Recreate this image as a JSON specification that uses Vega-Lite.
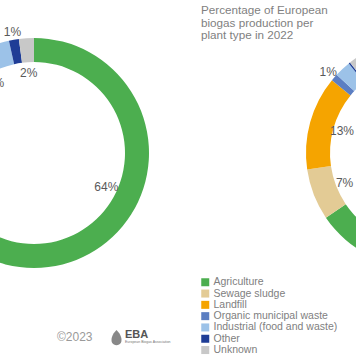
{
  "$schema": "https://vega.github.io/schema/vega-lite/v6.json",
  "width": 356,
  "height": 306,
  "autosize": {"type": "none"},
  "padding": {"left": 0, "top": 0, "right": 0, "bottom": 58},
  "background": "white",
  "config": {"view": {"stroke": null}, "font": "Liberation Sans"},
  "title": {
    "text": ["Percentage of European", "biogas production per", "plant type in 2022"],
    "anchor": "start",
    "frame": "group",
    "orient": "top",
    "dx": 201,
    "offset": -42,
    "font": "Liberation Sans",
    "fontSize": 11.7,
    "fontWeight": "normal",
    "lineHeight": 12.5,
    "color": "#7f7f7f"
  },
  "datasets": {
    "shares": [
      {"chart": "plants", "type": "Agriculture", "ord": 1, "share": 0.64},
      {"chart": "plants", "type": "Sewage sludge", "ord": 2, "share": 0.11},
      {"chart": "plants", "type": "Landfill", "ord": 3, "share": 0.07},
      {"chart": "plants", "type": "Organic municipal waste", "ord": 4, "share": 0.055},
      {"chart": "plants", "type": "Industrial (food and waste)", "ord": 5, "share": 0.09},
      {"chart": "plants", "type": "Other", "ord": 6, "share": 0.014},
      {"chart": "plants", "type": "Unknown", "ord": 7, "share": 0.021},
      {"chart": "production", "type": "Agriculture", "ord": 1, "share": 0.655},
      {"chart": "production", "type": "Sewage sludge", "ord": 2, "share": 0.072},
      {"chart": "production", "type": "Landfill", "ord": 3, "share": 0.132},
      {"chart": "production", "type": "Organic municipal waste", "ord": 4, "share": 0.010},
      {"chart": "production", "type": "Industrial (food and waste)", "ord": 5, "share": 0.023},
      {"chart": "production", "type": "Other", "ord": 6, "share": 0.002},
      {"chart": "production", "type": "Unknown", "ord": 7, "share": 0.106}
    ]
  },
  "data": {"name": "shares"},
  "layer": [
    {
      "transform": [{"filter": "datum.chart === 'plants'"}],
      "encoding": {
        "theta": {"field": "share", "type": "quantitative", "stack": true},
        "order": {"field": "ord", "type": "quantitative"},
        "x": {"field": "chart", "type": "nominal", "axis": null,
              "scale": {"type": "point", "domain": ["plants", "production"], "range": [34, 421], "padding": 0}}
      },
      "layer": [
        {
          "mark": {"type": "arc", "outerRadius": 115, "innerRadius": 91},
          "encoding": {
            "color": {
              "field": "type", "type": "nominal",
              "scale": {
                "domain": ["Agriculture", "Sewage sludge", "Landfill", "Organic municipal waste", "Industrial (food and waste)", "Other", "Unknown"],
                "range": ["#4cae4f", "#e3cb95", "#f5a400", "#5b7ec2", "#9cc2e8", "#1f3d96", "#c8c8c8"]
              },
              "legend": {
                "orient": "none", "legendX": 200, "legendY": 277, "title": null,
                "symbolType": "square", "symbolSize": 64, "symbolStrokeWidth": 0,
                "labelFont": "Liberation Sans", "labelFontSize": 10.5, "labelColor": "#808080",
                "labelOffset": 3, "rowPadding": 0.3, "padding": 0, "offset": 0
              }
            }
          }
        },
        {
          "mark": {"type": "text", "radius": 80, "fontSize": 12, "fill": "#595959", "font": "Liberation Sans"},
          "encoding": {
            "text": {"field": "share", "type": "quantitative", "format": ".0%"},
            "opacity": {"condition": {"test": "datum.share >= 0.018", "value": 1}, "value": 0}
          }
        },
        {
          "mark": {"type": "text", "radius": 123, "fontSize": 12, "fill": "#595959", "font": "Liberation Sans"},
          "encoding": {
            "text": {"field": "share", "type": "quantitative", "format": ".0%"},
            "opacity": {"condition": {"test": "datum.share >= 0.005 && datum.share < 0.018", "value": 1}, "value": 0}
          }
        }
      ]
    },
    {
      "transform": [{"filter": "datum.chart === 'production'"}],
      "encoding": {
        "theta": {"field": "share", "type": "quantitative", "stack": true},
        "order": {"field": "ord", "type": "quantitative"},
        "x": {"field": "chart", "type": "nominal", "axis": null,
              "scale": {"type": "point", "domain": ["plants", "production"], "range": [34, 421], "padding": 0}}
      },
      "layer": [
        {
          "mark": {"type": "arc", "outerRadius": 115, "innerRadius": 91},
          "encoding": {"color": {"field": "type", "type": "nominal"}}
        },
        {
          "mark": {"type": "text", "radius": 82, "fontSize": 12, "fill": "#595959", "font": "Liberation Sans"},
          "encoding": {
            "text": {"field": "share", "type": "quantitative", "format": ".0%"},
            "opacity": {"condition": {"test": "datum.share >= 0.018", "value": 1}, "value": 0}
          }
        },
        {
          "mark": {"type": "text", "radius": 123, "fontSize": 12, "fill": "#595959", "font": "Liberation Sans"},
          "encoding": {
            "text": {"field": "share", "type": "quantitative", "format": ".0%"},
            "opacity": {"condition": {"test": "datum.share >= 0.005 && datum.share < 0.018", "value": 1}, "value": 0}
          }
        }
      ]
    },
    {
      "data": {"values": [{"text": "©2023"}]},
      "mark": {"type": "text", "align": "left", "baseline": "middle", "fontSize": 12, "fill": "#9a9a9a", "font": "Liberation Sans"},
      "encoding": {"x": {"value": 57}, "y": {"value": 337}, "text": {"field": "text"}}
    },
    {
      "data": {"values": [{"text": "EBA"}]},
      "mark": {"type": "text", "align": "left", "baseline": "alphabetic", "fontSize": 11, "fontWeight": "bold", "fill": "#555555", "font": "Liberation Sans"},
      "encoding": {"x": {"value": 125}, "y": {"value": 338}, "text": {"field": "text"}}
    },
    {
      "data": {"values": [{"text": "European Biogas Association"}]},
      "mark": {"type": "text", "align": "left", "baseline": "top", "fontSize": 3.5, "fill": "#777777", "font": "Liberation Sans"},
      "encoding": {"x": {"value": 125}, "y": {"value": 340}, "text": {"field": "text"}}
    },
    {
      "data": {"values": [{"logo": "leaf"}]},
      "mark": {"type": "point", "filled": true, "fill": "#555555", "size": 256,
               "shape": "M0,-1 C0.55,-0.45 0.75,0.15 0.55,0.6 C0.35,1 -0.35,1 -0.55,0.6 C-0.75,0.15 -0.55,-0.45 0,-1 Z"},
      "encoding": {"x": {"value": 116.5}, "y": {"value": 338}}
    }
  ]
}
